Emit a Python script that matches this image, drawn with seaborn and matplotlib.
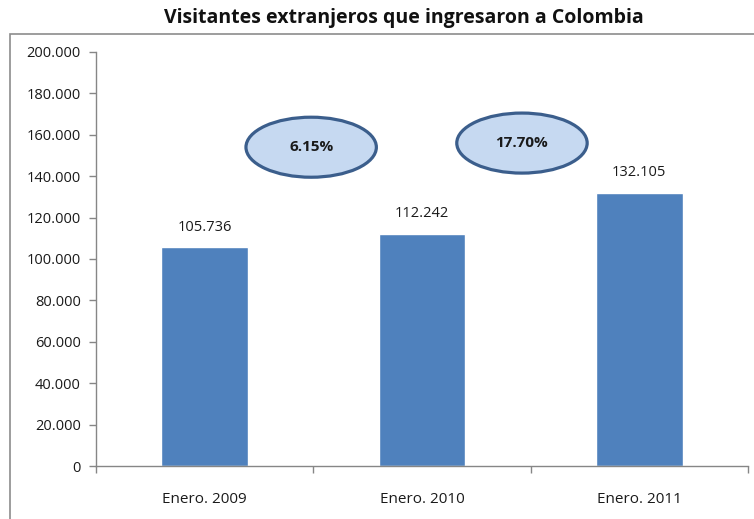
import matplotlib
matplotlib.use("Agg")
import matplotlib.pyplot as plt
from matplotlib.patches import Ellipse, Rectangle
from matplotlib.ticker import FuncFormatter, MultipleLocator
import seaborn as sns
import pandas as pd

# Visitor counts per period
periods = ["Enero. 2009", "Enero. 2010", "Enero. 2011"]
visitors = [105736, 112242, 132105]

# Growth between consecutive periods, placed between the bars
growth_x = [0.49, 1.46]
growth_y = [154000, 156000]

sns.set_theme(style="white")
plt.rcParams["font.family"] = ["Open Sans", "DejaVu Sans"]

df = pd.DataFrame({"periodo": periods, "visitantes": visitors})

fig = plt.figure(figsize=(7.54, 5.19), dpi=100)
ax = fig.add_axes([96 / 754, 1 - 466 / 519, (748 - 96) / 754, (466 - 52) / 519])

sns.barplot(data=df, x="periodo", y="visitantes", color="#4f81bd",
            saturation=1, width=0.4, ax=ax)

def thousands(v, _pos=None):
    return f"{int(round(v)):,}".replace(",", ".")

ax.set_ylim(0, 200000)
ax.set_xlim(-0.5, 2.5)
ax.yaxis.set_major_locator(MultipleLocator(20000))
ax.yaxis.set_major_formatter(FuncFormatter(thousands))
ax.set_xlabel("")
ax.set_ylabel("")

axis_color = "#868686"
for side in ["top", "right"]:
    ax.spines[side].set_visible(False)
for side in ["left", "bottom"]:
    ax.spines[side].set_color(axis_color)
    ax.spines[side].set_linewidth(1)

ax.tick_params(axis="y", which="major", left=True, length=5, width=1,
               color=axis_color, labelsize=10.5, labelcolor="#1a1a1a", pad=6)
ax.tick_params(axis="x", which="major", bottom=False, labelsize=11,
               labelcolor="#1a1a1a", pad=13)
# category separators on the x axis
ax.set_xticks([-0.5, 0.5, 1.5, 2.5], minor=True)
ax.tick_params(axis="x", which="minor", bottom=True, length=5, width=1,
               color=axis_color)

# value labels above each bar
for i, v in enumerate(visitors):
    ax.text(i, v + 9500, thousands(v), ha="center", va="center",
            fontsize=10.5, color="#1a1a1a")

# growth bubbles
for k in range(len(visitors) - 1):
    pct = (visitors[k + 1] - visitors[k]) / visitors[k] * 100
    ell = Ellipse((growth_x[k], growth_y[k]), width=0.6, height=29000,
                  facecolor="#c6d9f1", edgecolor="#3b5e8c", linewidth=2.3,
                  zorder=5, clip_on=False)
    ax.add_patch(ell)
    ax.text(growth_x[k], growth_y[k], f"{pct:.2f}%", ha="center",
            va="center", fontsize=11, fontweight="bold", color="#1a1a1a",
            zorder=6)

# chart frame
fig.patches.append(Rectangle((10 / 754, -0.05), 1.0, 1 - 34 / 519 + 0.05,
                             transform=fig.transFigure, fill=False,
                             edgecolor="#8c8c8c", linewidth=1.2))

fig.text(404 / 754, 1 - 18 / 519, "Visitantes extranjeros que ingresaron a Colombia",
         ha="center", va="center", fontsize=14, fontweight="bold",
         color="#111111")

fig.savefig("out.png", dpi=100)
